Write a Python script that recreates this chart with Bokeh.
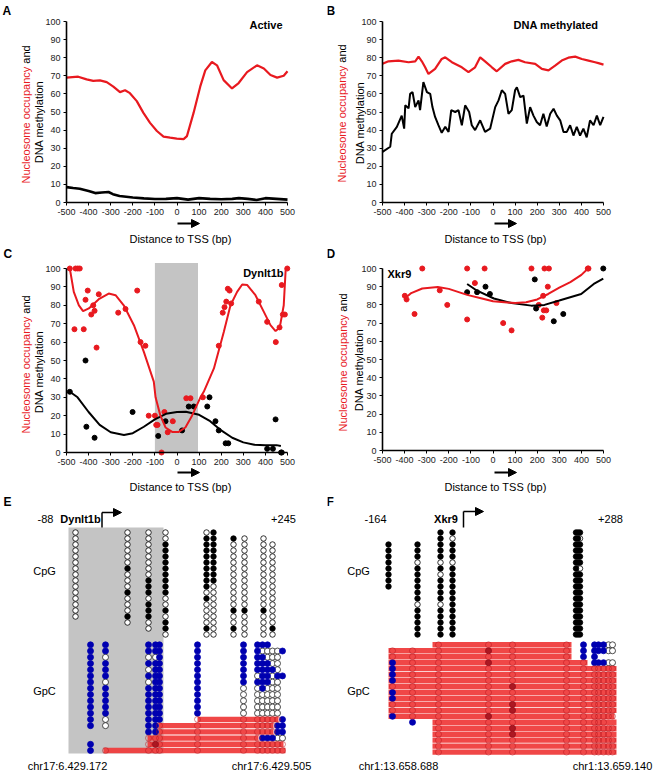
import numpy as np
from bokeh.plotting import figure
from bokeh.models import Range1d, Label, Arrow, NormalHead, FixedTicker
from bokeh.layouts import column, row
from bokeh.embed import file_html
from bokeh.resources import INLINE
from bokeh.core.properties import value

FONT = "Liberation Sans"
RED = "#e8191f"
BLACK = "#000000"
BLUE = "#0000b0"
GREY = "#c4c4c4"
BAR = "#ef3d3d"
ONBAR = "#b5121b"
DARKRED = "#a0101c"

# ---------------- shared axis texts ----------------
X_TICKS = [-500, -400, -300, -200, -100, 0, 100, 200, 300, 400, 500]
X_TICK_LABELS = ["-500", "-400", "-300", "-200", "-100", "0", "100", "200", "300", "400", "500"]
Y_TICKS = [0, 10, 20, 30, 40, 50, 60, 70, 80, 90, 100]
X_TITLE = "Distance to TSS (bp)"
Y_TITLE_RED = "Nucleosome occupancy"
Y_TITLE_AND = "and"
Y_TITLE_2 = "DNA methylation"

# ---------------- panel A (Active) ----------------
A_TITLE = "Active"
A_red_x = [-500, -447, -409, -379, -349, -318, -288, -258, -235, -213, -182, -152, -122, -91, -61, -31, -1,
           30, 45, 75, 105, 128, 158, 181, 211, 249, 279, 317, 362, 393, 423, 453, 483, 500]
A_red_y = [69, 69.5, 68, 67.2, 67.5, 66.5, 64, 61, 62, 60.4, 56, 49.5, 44, 39.5, 36.4, 35.8, 35.3,
           35, 36.7, 49.5, 64, 73, 77.6, 75.8, 67.6, 63, 66, 72, 75.8, 74, 70.4, 69, 70, 72.5]
A_blk_x = [-500, -470, -440, -400, -370, -340, -310, -290, -260, -230, -200, -150, -100, -50, 0, 50, 100,
           150, 200, 250, 280, 320, 360, 400, 450, 500]
A_blk_y = [8.5, 8, 7.6, 6.4, 5.2, 5.5, 5.8, 4.6, 3.6, 3.2, 2.8, 2.3, 1.9, 2, 2.4, 1.6, 2.4,
           2, 1.8, 2, 2.4, 2, 1.4, 2.4, 2, 1.6]

# ---------------- panel B (DNA methylated) ----------------
B_TITLE = "DNA methylated"
B_red_x = [-500, -473, -428, -382, -352, -337, -322, -307, -292, -262, -232, -216, -186, -141, -111, -81, -58,
           -36, -5, 17, 55, 85, 115, 145, 191, 221, 251, 281, 311, 341, 372, 402, 432, 462, 477, 500]
B_red_y = [76.6, 78, 78.4, 77.5, 78, 80.6, 78, 74.7, 71, 73.8, 79.3, 80.2, 77.5, 74.7, 72, 74.7, 80.2,
           78, 74.7, 72.5, 76.6, 78, 78.8, 77.5, 76.6, 73.8, 73, 75.6, 78.4, 80, 80.6, 79.3, 78.4, 77.5, 77, 76.2]
B_blk_x = [-500, -465, -458, -435, -413, -402, -397, -382, -375, -364, -352, -337, -330, -315, -299, -284,
           -274, -262, -247, -232, -216, -201, -189, -171, -156, -141, -126, -108, -96, -81, -58, -36, -13,
           10, 25, 40, 55, 70, 85, 100, 108, 123, 138, 153, 168, 183, 198, 213, 228, 243, 259, 274, 289,
           304, 319, 334, 349, 364, 379, 394, 409, 424, 439, 455, 470, 485, 500]
B_blk_y = [28, 30.8, 38, 41.8, 48, 40.8, 53.7, 52, 60, 61, 52.7, 56.4, 51, 66.5, 61, 60,
           52.7, 47.3, 42.7, 38.5, 41.8, 39, 51, 50, 51, 42.7, 53.7, 50, 42.7, 40, 45.4, 39, 40.8,
           52.7, 56.4, 62, 60, 49, 51, 62, 63.7, 58.2, 59, 43.6, 52.7, 48, 44.5, 42.7, 49, 42, 49, 51.8, 48,
           45.4, 39, 39, 42.7, 37, 41.8, 37, 40.8, 36, 45.4, 42.7, 48, 42.7, 47.3]

# ---------------- panel C (Dynlt1b) ----------------
C_TITLE = "Dynlt1b"
C_box = (-100, 95)
C_red_pt_x = [-485, -459, -449, -440, -464, -414, -404, -422, -388, -373, -364, -379, -354, -266, -233,
              -180, -165, -143, 42, 61, 117, 189, 207, 215, 223, 230, 238, 245, 370, 408, 447, 464, 479,
              474, 499, 488, -128, -100, -94, -88, -57, -42, -19, -70]
C_red_pt_y = [100, 100, 100, 100, 67, 83, 88, 67, 75, 77, 57, 80, 86, 76, 78,
              88, 60, 58, 29.5, 29.5, 30, 58, 76, 79, 82, 89, 88, 81, 82, 71, 60, 68, 75,
              91, 100, 75, 20, 20, 15, 15, 22, 11, 17, 0]
C_blk_pt_x = [-485, -414, -410, -373, -201, -85, -52, 23, 53, 76, 137, 147, 174, 189, 220, 232, 408, 434,
              446, 471, 474]
C_blk_pt_y = [33, 50, 14, 8, 22, 9, 17, 12, 25, 25, 25, 30, 17, 12, 5, 5, 2, 2, 18, 0, 0]
C_red_fit_x = [-485, -467, -444, -425, -399, -354, -309, -278, -241, -195, -150, -105, -97, -75, -52, -22,
               8, 38, 68, 106, 121, 167, 212, 242, 272, 295, 318, 355, 393, 423, 446, 465, 483, 492]
C_red_fit_y = [100, 87.3, 80, 76.8, 78.3, 83.3, 86.4, 85.5, 80, 69.2, 54.7, 38.5, 30, 20, 13.6, 11.2,
               11.2, 13.6, 20, 30, 33, 45.7, 65.6, 80, 87.3, 91.3, 91, 85.5, 76.4, 69.2, 66, 68, 80, 100]
C_blk_fit_x = [-485, -450, -400, -350, -300, -240, -200, -150, -100, -50, 0, 40, 100, 150, 200, 250, 300,
               350, 400, 450, 470]
C_blk_fit_y = [33, 30, 22, 15, 11, 9.5, 10.5, 14, 18, 21, 22, 22.2, 20.5, 17, 12, 8, 5.5, 4.2, 4, 4, 3.5]

# ---------------- panel D (Xkr9) ----------------
D_TITLE = "Xkr9"
D_red_pt_x = [-399, -391, -355, -320, -241, -207, -117, -117, -82, -38, 46, 84, 174, 233, 253, 248, 227,
              207, 223, 230, 241, 287, 429, 432]
D_red_pt_y = [85, 83, 75, 100, 88, 80, 100, 72, 92, 100, 70, 66, 100, 100, 100, 90, 85, 80, 73, 77, 77,
              81, 100, 100]
D_blk_pt_x = [-117, -72, -34, -14, 189, 195, 275, 318, 499]
D_blk_pt_y = [87, 87, 90, 86, 94, 78, 71, 75, 100]
D_red_fit_x = [-399, -370, -320, -250, -200, -117, -50, 0, 100, 150, 200, 250, 300, 350, 400, 430]
D_red_fit_y = [83.5, 86.5, 89, 89.8, 88.8, 85.5, 83.5, 82, 81, 81.5, 83, 86, 89.5, 92.5, 96.5, 100]
D_blk_fit_x = [-117, -72, 4, 84, 173, 233, 300, 399, 456, 499]
D_blk_fit_y = [91.5, 87.8, 83.5, 81, 79.6, 80, 82.4, 86, 91.5, 94.5]

# ---------------- panel E (Dynlt1b bisulfite map) ----------------
E_GENE = "Dynlt1b"
E_LEFT_POS, E_RIGHT_POS = "-88", "+245"
E_CHR_LEFT, E_CHR_RIGHT = "chr17:6,429,172", "chr17:6,429,505"
E_CPG_X = [75, 127, 148, 165, 206, 213, 233, 244, 263, 272]
E_CPG_FIRST = [0, 0, 0, 0, 0, 0, 1, 1, 1, 2]
E_CPG_CALLS = ["000000000000000", "0000001000100010", "00000000111011100", "001111111110010110",
               "011111111101000010", "111111111000000000", "10000000000010010", "00000000000010000",
               "00000000000010000", "0000000000000010"]
E_GPC_X = [90, 105, 148, 155, 159, 197, 243, 257, 262, 267, 272, 277, 282]
E_GPC_ROWS = ["bbbbbbbbbb...", "bbbbbbbbwwwwb", "bwwwbbbbbwww.", "bbbbbbbbbbww.", "bbwbbbbbbbbw.",
              "bbbbbbbwbbwbb", "bwwbbbbbbbww.", "bbbbbbwwbwww.", "bbbbbbwwwwww.", "bbbbbbwwwwww.",
              "bbbbbbwwwwww.", "bbbbbbwwwwww.", "bwbbbooooooob", "bwbbooooooobb", "..bbooooooobb",
              "..oooooobbbww", "b.oxooooooooo", "boooooooooooo"]
E_BAR_ROW = [12, 13, 14, 15, 16, 17]
E_BAR_X0 = [197, 158, 158, 147, 147, 103]
E_BAR_X1 = [278, 273, 273, 258, 283, 285]

# ---------------- panel F (Xkr9 bisulfite map) ----------------
F_GENE = "Xkr9"
F_LEFT_POS, F_RIGHT_POS = "-164", "+288"
F_CHR_LEFT, F_CHR_RIGHT = "chr1:13,658,688", "chr1:13,659,140"
F_CPG_X = [388, 417, 440, 452, 575.5, 577.5, 579.5]
F_CPG_FIRST = [2, 2, 0, 0, 0, 0, 0]
F_CPG_CALLS = ["11111111", "1110111111011111", "111110101111011111", "101110111111111111",
               "111111111111111111", "111111011111111111", "101111011111111111"]
F_GPC_X = [392, 412, 438, 488, 512, 566, 583, 594, 598, 603, 608, 612]
F_GPC_ROWS = ["..oooobbbbww", "oooxoobbbbww", "oooooobb....", "booxooobbbww", "booooooooooo",
              "booooooooooo", "booooooooooo", "ooooxooooooo", "booooooooooo", "booooooooooo",
              "ooooxooooooo", "ooooxooooooo", "booxoooooooo", ".boooooooo..", "..ooxooooooo",
              "..ooxoooooo.", "..oooooooooo", "..oooooooooo", "..oooooooooo"]
F_BAR_X0 = [432, 388, 388, 388, 388, 388, 388, 388, 388, 388, 388, 388, 388, 432, 432, 432, 432, 432, 432]
F_BAR_X1 = [571, 571, 571, 587, 616, 616, 616, 616, 616, 616, 616, 616, 614, 616, 616, 616, 616, 616, 616]


# =====================================================================
def panel(origin, size, frame_left, frame_bottom, ppx, ppy):
    """Whole figure is the plotting frame; the axes are pinned at x=-500 / y=0."""
    W, H = size
    ox, oy = origin
    x0 = X_TICKS[0] + (ox - frame_left) / ppx
    x1 = X_TICKS[0] + (ox + W - frame_left) / ppx
    y0 = (frame_bottom - (oy + H)) / ppy
    y1 = (frame_bottom - oy) / ppy
    p = figure(width=W, height=H, x_range=Range1d(x0, x1), y_range=Range1d(y0, y1),
               min_border=0, toolbar_location=None, output_backend="svg")
    p.outline_line_color = None
    p.xgrid.visible = False
    p.ygrid.visible = False
    p.xaxis.fixed_location = Y_TICKS[0]
    p.yaxis.fixed_location = X_TICKS[0]
    p.xaxis.ticker = FixedTicker(ticks=X_TICKS)
    p.yaxis.ticker = FixedTicker(ticks=Y_TICKS)
    p.xaxis.major_label_overrides = dict(zip(X_TICKS, X_TICK_LABELS))
    p.xaxis.bounds = (X_TICKS[0], X_TICKS[-1])
    p.yaxis.bounds = (Y_TICKS[0], Y_TICKS[-1])
    for ax in (p.xaxis, p.yaxis):
        ax.axis_line_width = 1.6
        ax.axis_line_color = BLACK
        ax.major_tick_line_color = BLACK
        ax.major_tick_out = 3
        ax.major_tick_in = 0
        ax.minor_tick_out = 0
        ax.minor_tick_in = 0
        ax.major_label_text_font = FONT
        ax.major_label_text_font_size = "9px"
        ax.major_label_text_color = "#222222"
        ax.major_label_standoff = 3

    def to_data(px, py):
        return X_TICKS[0] + (px - frame_left) / ppx, (frame_bottom - py) / ppy
    return p, to_data


def lab(p, xy, text, size="11px", color=BLACK, bold=False, align="left", baseline="middle", angle=0.0):
    p.add_layout(Label(x=xy[0], y=xy[1], text=text, text_font=FONT, text_font_size=size,
                       text_color=color, text_font_style="bold" if bold else "normal",
                       text_align=align, text_baseline=baseline, angle=angle))


def decorate(p, to_data, letter, letter_xy, title, title_xy, title_align,
             ytl_x1, ytl_x2, ytl_bottom, ytl_center2, xt_center, xt_y, arrow_x, arrow_y):
    lab(p, to_data(*letter_xy), letter, size="12px", bold=True, baseline="top")
    lab(p, to_data(*title_xy), title, bold=True, align=title_align)
    # y title (rotated, two lines, first line in two colours)
    lab(p, to_data(ytl_x1, ytl_bottom), Y_TITLE_RED, color=RED, angle=np.pi / 2)
    red_w = 119.8  # rendered width of "Nucleosome occupancy " at 11px
    lab(p, to_data(ytl_x1, ytl_bottom - red_w), Y_TITLE_AND, angle=np.pi / 2)
    lab(p, to_data(ytl_x2, ytl_center2), Y_TITLE_2, align="center", angle=np.pi / 2)
    lab(p, to_data(xt_center, xt_y), X_TITLE, align="center")
    s = to_data(arrow_x[0], arrow_y)
    e = to_data(arrow_x[1], arrow_y)
    p.add_layout(Arrow(end=NormalHead(size=8, fill_color=BLACK, line_color=BLACK),
                       x_start=s[0], y_start=s[1], x_end=e[0], y_end=e[1],
                       line_width=2, line_color=BLACK))


# ---- A ----
pA, dA = panel((0, 0), (327, 245), 66, 202, 0.221, 1.81)
pA.line(A_red_x, A_red_y, line_color=RED, line_width=2.2)
pA.line(A_blk_x, A_blk_y, line_color=BLACK, line_width=2.6)
decorate(pA, dA, "A", (2, 3), A_TITLE, (282, 24), "right",
         25, 38, 183, 121.5, 180, 238, (177, 199), 223)

# ---- B ----
pB, dB = panel((327, 0), (327, 245), 382, 202, 0.221, 1.81)
pB.line(B_red_x, B_red_y, line_color=RED, line_width=2.2)
pB.line(B_blk_x, B_blk_y, line_color=BLACK, line_width=2)
decorate(pB, dB, "B", (326, 3), B_TITLE, (598, 24), "right",
         341, 359, 182, 122.5, 495, 238, (494, 516), 223)

# ---- C ----
pC, dC = panel((0, 245), (327, 248), 66, 452, 0.221, 1.84)
pC.quad(left=[C_box[0]], right=[C_box[1]], bottom=[0], top=[103], fill_color=GREY, line_color=None)
pC.scatter(C_red_pt_x, C_red_pt_y, size=5, fill_color=RED, line_color=RED)
pC.scatter(C_blk_pt_x, C_blk_pt_y, size=5, fill_color=BLACK, line_color=BLACK)
pC.line(C_blk_fit_x, C_blk_fit_y, line_color=BLACK, line_width=2)
pC.line(C_red_fit_x, C_red_fit_y, line_color=RED, line_width=2)
decorate(pC, dC, "C", (3, 246), C_TITLE, (283, 272), "right",
         25, 38, 433, 371.5, 180, 486, (177, 199), 472)

# ---- D ----
pD, dD = panel((327, 245), (327, 248), 382, 450, 0.221, 1.82)
pD.scatter(D_red_pt_x, D_red_pt_y, size=5, fill_color=RED, line_color=RED)
pD.scatter(D_blk_pt_x, D_blk_pt_y, size=5, fill_color=BLACK, line_color=BLACK)
pD.line(D_blk_fit_x, D_blk_fit_y, line_color=BLACK, line_width=2)
pD.line(D_red_fit_x, D_red_fit_y, line_color=RED, line_width=2)
decorate(pD, dD, "D", (326, 246), D_TITLE, (387, 273), "left",
         342, 358, 431, 369.5, 495, 486, (494, 516), 472)


# ---- E / F bisulfite diagrams ----
CPG_TOP, CPG_STEP = 532, 6.0
GPC_TOP = 644.3


def diagram(x0, x1, W):
    p = figure(width=W, height=277, x_range=Range1d(x0, x1), y_range=Range1d(770, 493),
               x_axis_type=None, y_axis_type=None, min_border=0,
               toolbar_location=None, output_backend="svg")
    p.outline_line_color = None
    p.grid.visible = False
    return p


def draw_cpg(p, xs, firsts, calls):
    fx, fy, ox, oy = [], [], [], []
    for x, f, c in zip(xs, firsts, calls):
        for i, ch in enumerate(c):
            y = CPG_TOP + CPG_STEP * (f + i)
            if ch == "1":
                fx.append(x); fy.append(y)
            else:
                ox.append(x); oy.append(y)
    p.scatter(ox, oy, size=5.5, fill_color="white", line_color=BLACK, line_width=0.8)
    p.scatter(fx, fy, size=5.5, fill_color=BLACK, line_color=BLACK, line_width=0.8)


def draw_gpc(p, xs, rows, step, bar_rows, bar_x0, bar_x1):
    pts = {k: ([], []) for k in "bwox"}
    for r, pat in enumerate(rows):
        y = GPC_TOP + step * r
        for x, ch in zip(xs, pat):
            if ch in pts:
                pts[ch][0].append(x); pts[ch][1].append(y)
    p.scatter(*pts["w"], size=6, fill_color="white", line_color="#222222", line_width=0.8)
    p.hbar(y=[GPC_TOP + step * r for r in bar_rows], left=bar_x0, right=bar_x1, height=5.4,
           fill_color=BAR, line_color=None, fill_alpha=0.95)
    p.scatter(*pts["b"], size=6, fill_color=BLUE, line_color=BLUE, line_width=0.8)
    p.scatter(*pts["o"], size=6, fill_color=None, line_color=ONBAR, line_alpha=0.55, line_width=0.9)
    p.scatter(*pts["x"], size=6, fill_color=DARKRED, line_color=DARKRED, fill_alpha=0.85)


def texts(p, xs, ys, ts, bold=False, align="center", size="11px", baseline="middle"):
    p.text(xs, ys, text=ts, text_font=value(FONT), text_font_size=value(size),
           text_font_style="bold" if bold else "normal", text_align=align,
           text_baseline=baseline, text_color=BLACK)


def tss_arrow(p, x, y_low, y_high, x_end):
    p.line([x, x], [y_low, y_high], line_color=BLACK, line_width=1.5)
    p.add_layout(Arrow(end=NormalHead(size=8, fill_color=BLACK, line_color=BLACK),
                       x_start=x, y_start=y_high, x_end=x_end, y_end=y_high,
                       line_width=1.5, line_color=BLACK))


pE = diagram(0, 327, 327)
pE.quad(left=[68], right=[163], top=[527], bottom=[753], fill_color=GREY, line_color=None)
draw_cpg(pE, E_CPG_X, E_CPG_FIRST, E_CPG_CALLS)
draw_gpc(pE, E_GPC_X, E_GPC_ROWS, 6.22, E_BAR_ROW, E_BAR_X0, E_BAR_X1)
texts(pE, [45, 283, 44, 44, 67, 271], [518, 518, 570, 690, 765, 765],
      [E_LEFT_POS, E_RIGHT_POS, "CpG", "GpC", E_CHR_LEFT, E_CHR_RIGHT])
texts(pE, [80], [518], [E_GENE], bold=True)
texts(pE, [3], [494], ["E"], bold=True, align="left", size="12px", baseline="top")
tss_arrow(pE, 101.5, 527, 512, 121)

pF = diagram(327, 654, 327)
draw_cpg(pF, F_CPG_X, F_CPG_FIRST, F_CPG_CALLS)
draw_gpc(pF, F_GPC_X, F_GPC_ROWS, 5.96, list(range(len(F_BAR_X0))), F_BAR_X0, F_BAR_X1)
texts(pF, [375, 610, 358, 358, 398, 612], [518, 518, 570, 690, 765, 765],
      [F_LEFT_POS, F_RIGHT_POS, "CpG", "GpC", F_CHR_LEFT, F_CHR_RIGHT])
texts(pF, [445.5], [518], [F_GENE], bold=True)
texts(pF, [326], [494], ["F"], bold=True, align="left", size="12px", baseline="top")
tss_arrow(pF, 463, 527, 511, 483)

layout = column(row(pA, pB), row(pC, pD), row(pE, pF))
open("out.html", "w").write(file_html(layout, INLINE))
